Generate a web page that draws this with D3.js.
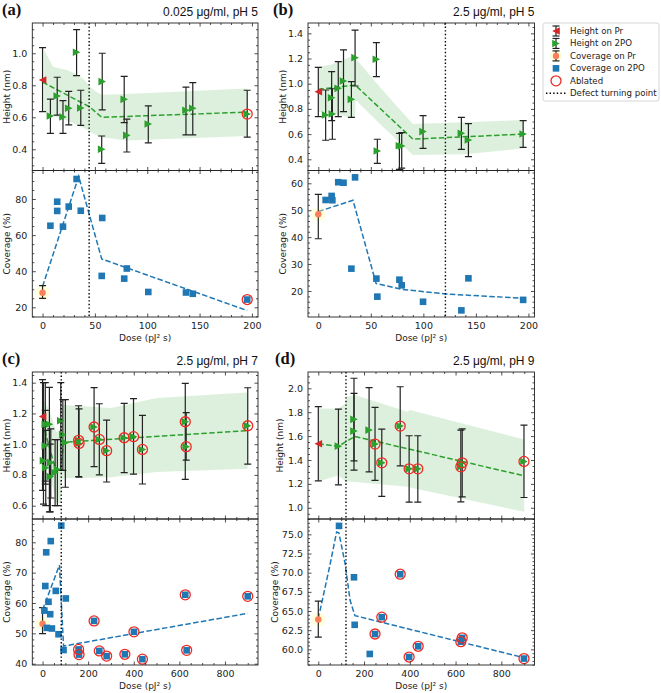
<!DOCTYPE html>
<html><head><meta charset="utf-8">
<script src="https://cdn.jsdelivr.net/npm/d3@7"></script>
<style>body{margin:0;background:#fff}svg{display:block}</style>
</head><body>
<svg id="c" width="661" height="693"></svg>
<script>
// ================= DATA =================
// Panel (a) 0.025 µg/ml, pH 5
const aTitle = "0.025 μg/ml, pH 5";
const aHPrDose = [0], aHPr = [0.833], aHPrLo = [0.635], aHPrHi = [1.035];
const aH2Dose = [7.5, 14, 19.5, 25, 32.5, 36.5, 57, 56.5, 78, 80.5, 101, 137, 143.5, 195.5];
const aH2 =     [0.608, 0.733, 0.602, 0.656, 1.006, 0.658, 0.823, 0.40, 0.712, 0.487, 0.558, 0.644, 0.656, 0.62];
const aH2Hi =   [0.714, 0.85, 0.704, 0.762, 1.148, 0.769, 1.0, 0.483, 0.856, 0.589, 0.671, 0.789, 0.816, 0.769];
const aH2Lo =   [0.50, 0.614, 0.50, 0.552, 0.86, 0.55, 0.646, 0.312, 0.566, 0.383, 0.44, 0.49, 0.49, 0.476];
const aH2Ablated = [false,false,false,false,false,false,false,false,false,false,false,false,false,true];
const aHFitDose = [0, 45, 56.5, 195.5], aHFit = [0.82, 0.665, 0.60, 0.632];
const aHBandDose = [1.5, 10, 23, 32, 40, 43, 45, 51.5, 56.5, 80, 195.5];
const aHBandHi = [1.02, 0.915, 0.895, 0.87, 0.835, 0.81, 0.79, 0.76, 0.74, 0.746, 0.78];
const aHBandLo = [0.64, 0.61, 0.58, 0.555, 0.53, 0.52, 0.51, 0.49, 0.475, 0.455, 0.483];
const aCPrDose = [0], aCPr = [28.1], aCPrLo = [25.0], aCPrHi = [32.0];
const aC2Dose = [7.5, 14, 14, 19.5, 25, 32.5, 36.5, 57, 56.5, 78, 80.5, 101, 137, 143.5, 195.5];
const aC2 =     [65.2, 78.5, 73.4, 64.7, 75.8, 91.1, 73.5, 69.5, 37.4, 35.9, 41.5, 28.5, 28.2, 27.5, 24.3];
const aC2Ablated = [false,false,false,false,false,false,false,false,false,false,false,false,false,false,true];
const aCFitDose = [0, 34.5, 56.5, 195.5], aCFit = [31.5, 92.5, 46.8, 18.2];
const aTurn = 44.5;

// Panel (b) 2.5 µg/ml, pH 5
const bTitle = "2.5 μg/ml, pH 5";
const bHPrDose = [0], bHPr = [0.937], bHPrLo = [0.739], bHPrHi = [1.13];
const bH2Dose = [7, 12.7, 13.4, 19, 24, 31.5, 35, 55.3, 56.2, 77.2, 79.4, 99.7, 136.2, 142.9, 195];
const bH2 =   [0.752, 0.889, 0.76, 0.963, 1.022, 0.876, 1.207, 1.194, 0.466, 0.508, 0.506, 0.62, 0.606, 0.553, 0.601];
const bH2Hi = [0.95, 1.096, 0.96, 1.175, 1.268, 1.016, 1.426, 1.326, 0.559, 0.606, 0.612, 0.747, 0.733, 0.683, 0.707];
const bH2Lo = [0.551, 0.707, 0.559, 0.739, 0.778, 0.733, 0.982, 1.056, 0.368, 0.32, 0.33, 0.487, 0.479, 0.421, 0.495];
const bH2Ablated = bH2Dose.map(() => false);
const bHFitDose = [0, 35, 90, 195], bHFit = [0.955, 0.99, 0.56, 0.60];
const bHBandDose = [0, 12, 24, 31, 35, 35.5, 60, 90, 140, 195];
const bHBandHi = [1.135, 1.15, 1.19, 1.215, 1.21, 1.20, 0.96, 0.68, 0.695, 0.712];
const bHBandLo = [0.78, 0.765, 0.745, 0.73, 0.73, 0.87, 0.67, 0.435, 0.44, 0.487];
const bCPrDose = [0], bCPr = [48.5], bCPrLo = [39.4], bCPrHi = [55.9];
const bC2Dose = [7, 12.7, 13.4, 19, 24, 31.5, 35, 55.3, 56.2, 77.2, 79.4, 99.7, 136.2, 142.9, 195];
const bC2 = [53.8, 55.3, 53.7, 60.4, 60.2, 28.3, 62.2, 24.6, 17.9, 24.2, 22.1, 16.0, 12.8, 24.7, 16.7];
const bC2Ablated = bC2Dose.map(() => false);
const bCFitDose = [0, 33, 55, 80, 121, 195], bCFit = [49.5, 53.7, 22.8, 20.6, 18.9, 17.3];
const bTurn = 121;

// Panel (c) 2.5 µg/ml, pH 7
const cTitle = "2.5 μg/ml, pH 7";
const cHPrDose = [0], cHPr = [1.18], cHPrLo = [0.70], cHPrHi = [1.42];
const cH2Dose = [4, 12, 12, 14, 30, 34, 36, 55, 65, 80, 89, 100, 158, 160, 226, 249, 281, 358, 399, 438, 626, 630, 900];
const cH2 =   [0.893, 1.13, 0.99, 0.847, 1.13, 0.789, 0.88, 0.815, 0.836, 1.153, 1.062, 1.01, 1.025, 1.005, 1.112, 1.031, 0.958, 1.042, 1.049, 0.966, 1.146, 0.984, 1.12];
const cH2Hi = [1.40, 1.40, 1.22, 1.09, 1.37, 1.00, 1.10, 1.03, 1.03, 1.40, 1.29, 1.29, 1.25, 1.23, 1.368, 1.263, 1.157, 1.266, 1.296, 1.188, 1.396, 1.205, 1.367];
const cH2Lo = [0.61, 0.74, 0.76, 0.60, 0.56, 0.56, 0.65, 0.60, 0.60, 0.83, 0.83, 0.72, 0.79, 0.785, 0.854, 0.80, 0.754, 0.815, 0.806, 0.741, 0.771, 0.896, 0.871];
const cH2Ablated = cH2Dose.map(d => d >= 150);
const cHFitDose = [0, 60, 80, 92, 900], cHFit = [1.14, 0.82, 0.84, 1.012, 1.088];
const cHBandDose = [0, 30, 60, 80, 85, 95, 300, 500, 900];
const cHBandHi = [1.30, 1.22, 1.08, 1.10, 1.25, 1.255, 1.235, 1.30, 1.337];
const cHBandLo = [0.98, 0.82, 0.62, 0.62, 0.76, 0.778, 0.785, 0.82, 0.84];
const cCPrDose = [0], cCPr = [53.2], cCPrLo = [49.9], cCPrHi = [58.5];
const cC2Dose = [12, 8, 16, 19, 26, 33.5, 36, 41, 58, 70, 82, 92, 102, 158, 160, 226, 249, 281, 361, 401, 438, 626, 632, 900];
const cC2 = [65.6, 57.5, 76.7, 51.8, 60.4, 56.3, 80.4, 51.6, 64.0, 49.7, 85.5, 44.5, 61.5, 44.7, 43.0, 54.1, 44.2, 42.5, 43.1, 50.5, 41.5, 62.7, 44.4, 62.2];
const cC2Ablated = cC2Dose.map(d => d >= 150);
const cCFitDose = [0, 74, 92, 900], cCFit = [57.7, 72.5, 45.8, 56.6];
const cTurn = 82;

// Panel (d) 2.5 µg/ml, pH 9
const dTitle = "2.5 μg/ml, pH 9";
const dHPrDose = [0], dHPr = [1.536], dHPrLo = [1.226], dHPrHi = [1.846];
const dH2Dose = [88, 156, 156, 222, 248, 277.5, 358, 397, 435, 623, 629, 899];
const dH2 =   [1.516, 1.74, 1.642, 1.65, 1.533, 1.376, 1.684, 1.326, 1.326, 1.343, 1.376, 1.388];
const dH2Hi = [1.826, 2.084, 1.958, 2.005, 1.84, 1.659, 2.013, 1.603, 1.603, 1.65, 1.661, 1.692];
const dH2Lo = [1.192, 1.315, 1.393, 1.30, 1.229, 1.095, 1.351, 1.047, 1.047, 1.05, 1.091, 1.086];
const dH2Ablated = [false,false,false,false,true,true,true,true,true,true,true,true];
const dHFitDose = [0, 88, 160, 900], dHFit = [1.535, 1.515, 1.597, 1.267];
const dHBandDose = [0, 88, 121, 123, 160, 390, 400, 900];
const dHBandHi = [1.83, 1.832, 1.874, 1.93, 1.944, 1.804, 1.818, 1.572];
const dHBandLo = [1.22, 1.27, 1.22, 1.22, 1.215, 1.175, 1.17, 0.966];
const dCPrDose = [0], dCPr = [63.9], dCPrLo = [61.6], dCPrHi = [66.3];
const dC2Dose = [90.6, 156, 159, 225, 248, 277.5, 358, 397, 436.5, 623, 629, 899];
const dC2 = [76.1, 69.4, 63.2, 59.4, 62.0, 64.2, 69.8, 59.0, 60.4, 61.0, 61.5, 58.8];
const dC2Ablated = [false,false,false,false,true,true,true,true,true,true,true,true];
const dCFitDose = [0, 51, 80, 90, 117, 139, 160, 900], dCFit = [64.0, 71.0, 75.3, 75.2, 71.2, 66.4, 64.4, 58.9];
const dTurn = 121;

// Ticks
const xTicksSmall = [0, 50, 100, 150, 200];
const xTicksLarge = [0, 200, 400, 600, 800];
const aHTicks = [0.4, 0.6, 0.8, 1.0], aCTicks = [20, 40, 60, 80];
const bHTicks = [0.4, 0.6, 0.8, 1.0, 1.2, 1.4], bCTicks = [20, 30, 40, 50, 60];
const cHTicks = [0.6, 0.8, 1.0, 1.2, 1.4], cCTicks = [40, 50, 60, 70, 80];
const dHTicks = [1.0, 1.2, 1.4, 1.6, 1.8, 2.0], dCTicks = [60.0, 62.5, 65.0, 67.5, 70.0, 72.5, 75.0];

const legendLabels = ["Height on Pr", "Height on 2PO", "Coverage on Pr", "Coverage on 2PO", "Ablated", "Defect turning point"];

// ================= DRAWING =================
const svg = d3.select('#c');
const FONT = "'DejaVu Sans', sans-serif";
const GREEN = '#2ca02c', RED = '#d62728', BLUE = '#1f77b4', ORANGE = '#fb7f5c', ABL = '#ee2a22', INK = '#222';
let clipId = 0;

function zip(a, b) { return a.map((v, i) => [v, b[i]]); }
function minorVals(domain, step, majors) {
  const out = [];
  const s = Math.ceil(domain[0] / step - 1e-9);
  for (let k = s; k * step <= domain[1] + 1e-9; k++) {
    const v = +(k * step).toFixed(6);
    if (!majors.some(m => Math.abs(m - v) < 1e-6)) out.push(v);
  }
  return out;
}
function styleAxis(g) {
  g.select('.domain').remove();
  g.selectAll('.tick line').attr('stroke', INK).attr('stroke-width', 0.8);
  g.selectAll('.tick text').attr('fill', INK).style('font-family', FONT).style('font-size', '9.5px');
}
function frame(x, y, xT, xMinStep, yT, yMinStep, yFmt, xLabels) {
  const [x0, x1] = x.range();
  const [yb, yt] = y.range();
  const xm = minorVals(x.domain(), xMinStep, xT), ym = minorVals(y.domain(), yMinStep, yT);
  const g = svg.append('g');
  g.append('g').attr('transform', `translate(${x0},0)`).call(d3.axisLeft(y).tickValues(yT).tickSize(-3.5).tickPadding(5).tickFormat(yFmt)).call(styleAxis);
  g.append('g').attr('transform', `translate(${x0},0)`).call(d3.axisLeft(y).tickValues(ym).tickSize(-2).tickFormat('')).call(styleAxis);
  g.append('g').attr('transform', `translate(${x1},0)`).call(d3.axisRight(y).tickValues(yT).tickSize(-3.5).tickFormat('')).call(styleAxis);
  g.append('g').attr('transform', `translate(${x1},0)`).call(d3.axisRight(y).tickValues(ym).tickSize(-2).tickFormat('')).call(styleAxis);
  g.append('g').attr('transform', `translate(0,${yt})`).call(d3.axisTop(x).tickValues(xT).tickSize(-3.5).tickFormat('')).call(styleAxis);
  g.append('g').attr('transform', `translate(0,${yt})`).call(d3.axisTop(x).tickValues(xm).tickSize(-2).tickFormat('')).call(styleAxis);
  g.append('g').attr('transform', `translate(0,${yb})`).call(d3.axisBottom(x).tickValues(xT).tickSize(-3.5).tickPadding(5).tickFormat(xLabels ? d3.format('d') : '')).call(styleAxis);
  g.append('g').attr('transform', `translate(0,${yb})`).call(d3.axisBottom(x).tickValues(xm).tickSize(-2).tickFormat('')).call(styleAxis);
  g.append('rect').attr('x', x0).attr('y', yt).attr('width', x1 - x0).attr('height', yb - yt)
    .attr('fill', 'none').attr('stroke', INK).attr('stroke-width', 0.9);
}
function clipFor(x, y) {
  const id = 'clip' + (clipId++);
  const [x0, x1] = x.range(); const [yb, yt] = y.range();
  svg.append('clipPath').attr('id', id).append('rect').attr('x', x0).attr('y', yt).attr('width', x1 - x0).attr('height', yb - yt);
  return svg.append('g').attr('clip-path', `url(#${id})`);
}
function triPath(r, dir) {
  return `M${dir * r},0L${-dir * r},${-r}L${-dir * r},${r}Z`;
}
function errorBars(g, x, y, X, Y, lo, hi) {
  X.forEach((d, i) => {
    const px = x(d);
    g.append('line').attr('x1', px).attr('x2', px).attr('y1', y(lo[i])).attr('y2', y(hi[i])).attr('stroke', INK).attr('stroke-width', 1.2);
    [lo[i], hi[i]].forEach(v => g.append('line').attr('x1', px - 3.5).attr('x2', px + 3.5).attr('y1', y(v)).attr('y2', y(v)).attr('stroke', INK).attr('stroke-width', 1.2));
  });
}
function ablated(g, x, y, X, Y, flags) {
  X.forEach((d, i) => { if (flags[i]) g.append('circle').attr('cx', x(d)).attr('cy', y(Y[i])).attr('r', 5).attr('fill', 'none').attr('stroke', ABL).attr('stroke-width', 1.3); });
}

function drawPanel(p) {
  const x = d3.scaleLinear().domain(p.xDomain).range([p.x0, p.x1]);
  const yh = d3.scaleLinear().domain(p.hDomain).range([p.yMid, p.yTop]);
  const yc = d3.scaleLinear().domain(p.cDomain).range([p.yBot, p.yMid]);

  const gh = clipFor(x, yh);
  gh.append('path').datum(p.hBandDose.map((d, i) => [d, p.hBandLo[i], p.hBandHi[i]]))
    .attr('d', d3.area().x(d => x(d[0])).y0(d => yh(d[1])).y1(d => yh(d[2])))
    .attr('fill', GREEN).attr('fill-opacity', 0.16);
  gh.append('path').datum(zip(p.hFitDose, p.hFit)).attr('d', d3.line().x(d => x(d[0])).y(d => yh(d[1])))
    .attr('fill', 'none').attr('stroke', GREEN).attr('stroke-width', 1.5).attr('stroke-dasharray', '5.5,2.4');
  errorBars(gh, x, yh, p.hPrDose, p.hPr, p.hPrLo, p.hPrHi);
  errorBars(gh, x, yh, p.h2Dose, p.h2, p.h2Lo, p.h2Hi);
  gh.selectAll(null).data(zip(p.h2Dose, p.h2)).join('path').attr('d', triPath(3.8, 1))
    .attr('transform', d => `translate(${x(d[0])},${yh(d[1])})`).attr('fill', GREEN);
  gh.selectAll(null).data(zip(p.hPrDose, p.hPr)).join('path').attr('d', triPath(3.8, -1))
    .attr('transform', d => `translate(${x(d[0])},${yh(d[1])})`).attr('fill', RED);
  ablated(gh, x, yh, p.h2Dose, p.h2, p.h2Abl);

  const gc = clipFor(x, yc);
  gc.append('path').datum(zip(p.cFitDose, p.cFit)).attr('d', d3.line().x(d => x(d[0])).y(d => yc(d[1])))
    .attr('fill', 'none').attr('stroke', BLUE).attr('stroke-width', 1.5).attr('stroke-dasharray', '5.5,2.4');
  gc.selectAll(null).data(zip(p.cPrDose, p.cPr)).join('circle').attr('cx', d => x(d[0])).attr('cy', d => yc(d[1]))
    .attr('r', 7).attr('fill', '#ffff99').attr('fill-opacity', 0.35);
  errorBars(gc, x, yc, p.cPrDose, p.cPr, p.cPrLo, p.cPrHi);
  gc.selectAll(null).data(zip(p.cPrDose, p.cPr)).join('circle').attr('cx', d => x(d[0])).attr('cy', d => yc(d[1]))
    .attr('r', 3.2).attr('fill', ORANGE);
  gc.selectAll(null).data(zip(p.c2Dose, p.c2)).join('rect').attr('x', d => x(d[0]) - 3.3).attr('y', d => yc(d[1]) - 3.3)
    .attr('width', 6.6).attr('height', 6.6).attr('fill', BLUE);
  ablated(gc, x, yc, p.c2Dose, p.c2, p.c2Abl);

  svg.append('line').attr('x1', x(p.turn)).attr('x2', x(p.turn)).attr('y1', p.yTop).attr('y2', p.yBot)
    .attr('stroke', '#000').attr('stroke-width', 1.4).attr('stroke-dasharray', '1.4,2.2');

  frame(x, yh, p.xTicks, p.xMinor, p.hTicks, 0.05, d3.format('.1f'), false);
  frame(x, yc, p.xTicks, p.xMinor, p.cTicks, p.cMinor, p.cFmt, true);

  svg.append('text').attr('transform', `translate(${p.hLabX},${(p.yTop + p.yMid) / 2}) rotate(-90)`)
    .attr('text-anchor', 'middle').attr('dy', '0.35em').style('font-family', FONT).style('font-size', '9px').attr('fill', INK).text('Height (nm)');
  svg.append('text').attr('transform', `translate(${p.cLabX},${(p.yMid + p.yBot) / 2}) rotate(-90)`)
    .attr('text-anchor', 'middle').attr('dy', '0.35em').style('font-family', FONT).style('font-size', '9px').attr('fill', INK).text('Coverage (%)');
  svg.append('text').attr('x', (p.x0 + p.x1) / 2).attr('y', p.yBot + 24).attr('text-anchor', 'middle')
    .style('font-family', FONT).style('font-size', '9px').attr('fill', INK).text('Dose (pJ² s)');
  svg.append('text').attr('x', p.x1).attr('y', p.yTop - 7).attr('text-anchor', 'end')
    .style('font-family', "'Liberation Sans', Arial, sans-serif").style('font-size', '12px').attr('fill', '#111').text(p.title);
  svg.append('text').attr('x', p.letterX).attr('y', p.yTop - 8).style('font-family', "'Liberation Serif', 'Times New Roman', serif")
    .style('font-weight', 'bold').style('font-size', '16.5px').attr('fill', '#111').text(p.letter);
}

const fmtInt = d3.format('d'), fmt1 = d3.format('.1f');
drawPanel({letter: '(a)', letterX: 2, title: aTitle, x0: 32.3, x1: 258, yTop: 23, yMid: 170.5, yBot: 317,
  xDomain: [-9.8, 205.8], xTicks: xTicksSmall, xMinor: 10, hDomain: [0.2675, 1.189], hTicks: aHTicks,
  cDomain: [14.63, 95.8], cTicks: aCTicks, cMinor: 5, cFmt: fmtInt, hLabX: 7, cLabX: 7,
  hPrDose: aHPrDose, hPr: aHPr, hPrLo: aHPrLo, hPrHi: aHPrHi, h2Dose: aH2Dose, h2: aH2, h2Lo: aH2Lo, h2Hi: aH2Hi, h2Abl: aH2Ablated,
  hFitDose: aHFitDose, hFit: aHFit, hBandDose: aHBandDose, hBandLo: aHBandLo, hBandHi: aHBandHi,
  cPrDose: aCPrDose, cPr: aCPr, cPrLo: aCPrLo, cPrHi: aCPrHi, c2Dose: aC2Dose, c2: aC2, c2Abl: aC2Ablated,
  cFitDose: aCFitDose, cFit: aCFit, turn: aTurn});
drawPanel({letter: '(b)', letterX: 273, title: bTitle, x0: 308, x1: 534.5, yTop: 23, yMid: 170.5, yBot: 317,
  xDomain: [-9.8, 205.8], xTicks: xTicksSmall, xMinor: 10, hDomain: [0.311, 1.482], hTicks: bHTicks,
  cDomain: [10.34, 64.75], cTicks: bCTicks, cMinor: 2, cFmt: fmtInt, hLabX: 282.5, cLabX: 283,
  hPrDose: bHPrDose, hPr: bHPr, hPrLo: bHPrLo, hPrHi: bHPrHi, h2Dose: bH2Dose, h2: bH2, h2Lo: bH2Lo, h2Hi: bH2Hi, h2Abl: bH2Ablated,
  hFitDose: bHFitDose, hFit: bHFit, hBandDose: bHBandDose, hBandLo: bHBandLo, hBandHi: bHBandHi,
  cPrDose: bCPrDose, cPr: bCPr, cPrLo: bCPrLo, cPrHi: bCPrHi, c2Dose: bC2Dose, c2: bC2, c2Abl: bC2Ablated,
  cFitDose: bCFitDose, cFit: bCFit, turn: bTurn});
drawPanel({letter: '(c)', letterX: 2, title: cTitle, x0: 32.3, x1: 258, yTop: 372, yMid: 519, yBot: 665,
  xDomain: [-45, 945], xTicks: xTicksLarge, xMinor: 50, hDomain: [0.5135, 1.4696], hTicks: cHTicks,
  cDomain: [39.57, 87.68], cTicks: cCTicks, cMinor: 2, cFmt: fmtInt, hLabX: 7, cLabX: 7,
  hPrDose: cHPrDose, hPr: cHPr, hPrLo: cHPrLo, hPrHi: cHPrHi, h2Dose: cH2Dose, h2: cH2, h2Lo: cH2Lo, h2Hi: cH2Hi, h2Abl: cH2Ablated,
  hFitDose: cHFitDose, hFit: cHFit, hBandDose: cHBandDose, hBandLo: cHBandLo, hBandHi: cHBandHi,
  cPrDose: cCPrDose, cPr: cCPr, cPrLo: cCPrLo, cPrHi: cCPrHi, c2Dose: cC2Dose, c2: cC2, c2Abl: cC2Ablated,
  cFitDose: cCFitDose, cFit: cCFit, turn: cTurn});
drawPanel({letter: '(d)', letterX: 275, title: dTitle, x0: 308, x1: 534.5, yTop: 372, yMid: 519, yBot: 665,
  xDomain: [-45, 945], xTicks: xTicksLarge, xMinor: 50, hDomain: [0.9061, 2.1365], hTicks: dHTicks,
  cDomain: [57.96, 77.0], cTicks: dCTicks, cMinor: 0.5, cFmt: fmt1, hLabX: 280, cLabX: 275,
  hPrDose: dHPrDose, hPr: dHPr, hPrLo: dHPrLo, hPrHi: dHPrHi, h2Dose: dH2Dose, h2: dH2, h2Lo: dH2Lo, h2Hi: dH2Hi, h2Abl: dH2Ablated,
  hFitDose: dHFitDose, hFit: dHFit, hBandDose: dHBandDose, hBandLo: dHBandLo, hBandHi: dHBandHi,
  cPrDose: dCPrDose, cPr: dCPr, cPrLo: dCPrLo, cPrHi: dCPrHi, c2Dose: dC2Dose, c2: dC2, c2Abl: dC2Ablated,
  cFitDose: dCFitDose, cFit: dCFit, turn: dTurn});

// ---- legend ----
const lg = svg.append('g');
lg.append('rect').attr('x', 543).attr('y', 23).attr('width', 116).attr('height', 78).attr('rx', 2)
  .attr('fill', '#fff').attr('stroke', '#ccc').attr('stroke-width', 0.8);
const rowY = legendLabels.map((_, i) => 31 + i * 12.45);
const ix = 556;
function legBar(y) {
  lg.append('line').attr('x1', ix).attr('x2', ix).attr('y1', y - 5).attr('y2', y + 5).attr('stroke', INK).attr('stroke-width', 1.2);
  [y - 5, y + 5].forEach(v => lg.append('line').attr('x1', ix - 3.5).attr('x2', ix + 3.5).attr('y1', v).attr('y2', v).attr('stroke', INK).attr('stroke-width', 1.2));
}
legBar(rowY[0]); lg.append('path').attr('d', triPath(3.8, -1)).attr('transform', `translate(${ix},${rowY[0]})`).attr('fill', RED);
legBar(rowY[1]); lg.append('path').attr('d', triPath(3.8, 1)).attr('transform', `translate(${ix},${rowY[1]})`).attr('fill', GREEN);
lg.append('circle').attr('cx', ix).attr('cy', rowY[2]).attr('r', 6).attr('fill', '#ffff99').attr('fill-opacity', 0.35);
legBar(rowY[2]); lg.append('circle').attr('cx', ix).attr('cy', rowY[2]).attr('r', 3.2).attr('fill', ORANGE);
lg.append('rect').attr('x', ix - 3.3).attr('y', rowY[3] - 3.3).attr('width', 6.6).attr('height', 6.6).attr('fill', BLUE);
lg.append('circle').attr('cx', ix).attr('cy', rowY[4]).attr('r', 5).attr('fill', 'none').attr('stroke', ABL).attr('stroke-width', 1.3);
lg.append('line').attr('x1', ix - 10).attr('x2', ix + 10).attr('y1', rowY[5]).attr('y2', rowY[5]).attr('stroke', '#000').attr('stroke-width', 1.4).attr('stroke-dasharray', '1.4,2.2');
lg.selectAll(null).data(legendLabels).join('text').attr('x', 570).attr('y', (d, i) => rowY[i]).attr('dy', '0.35em')
  .style('font-family', FONT).style('font-size', '8.6px').attr('fill', INK).text(d => d);
</script>
</body></html>
